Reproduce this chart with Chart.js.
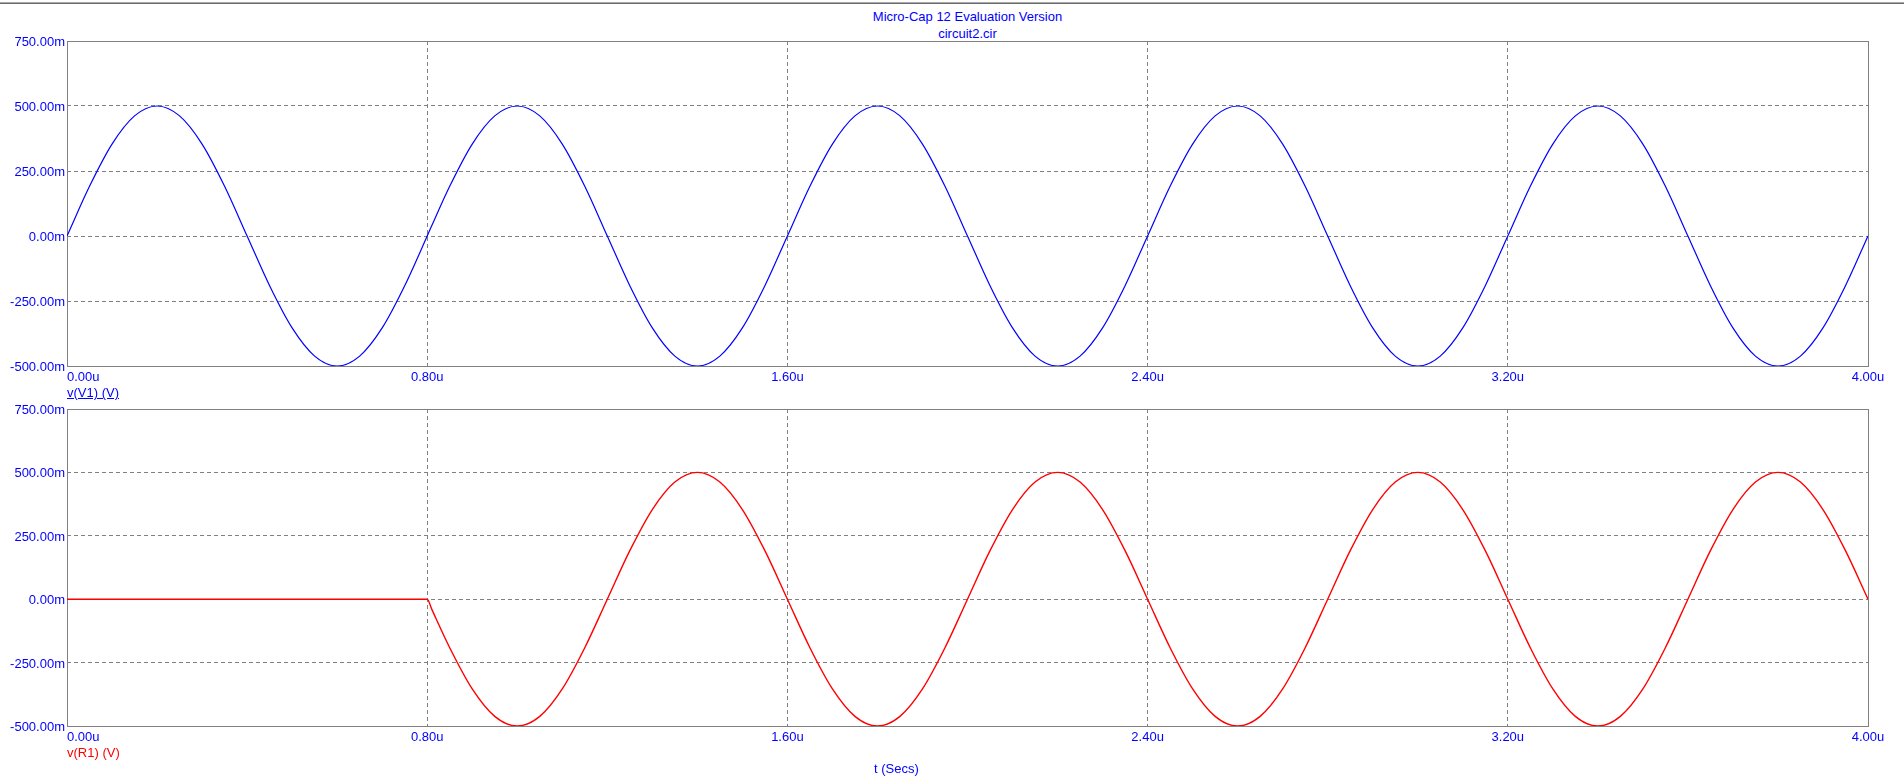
<!DOCTYPE html>
<html>
<head>
<meta charset="utf-8">
<title>circuit2.cir</title>
<script src="https://cdn.jsdelivr.net/npm/chart.js@4.4.0/dist/chart.umd.min.js"></script>
<style>
  html, body { margin: 0; padding: 0; background: #fff; }
  body {
    width: 1904px; height: 783px; position: relative; overflow: hidden;
    font-family: "Liberation Sans", Arial, sans-serif; font-size: 13px;
  }
  .frame-top { position: absolute; left: 0; top: 2px; width: 1904px; height: 1px; background: #a8a8a8; border-bottom: 1px solid #6c6c6c; }
  canvas { position: absolute; left: 0; }
  #topChart { top: 0; }
  #bottomChart { top: 395px; }
  .txt { position: absolute; white-space: nowrap; line-height: 15px; }
  .blue { color: #0000ff; }
  .red { color: #ff0000; }
  .title1 { top: 9px; left: 0; width: 1935px; text-align: center; }
  .title2 { top: 26px; left: 0; width: 1935px; text-align: center; }
  .lbl-v1 { top: 385px; left: 67px; text-decoration: underline; }
  .lbl-r1 { top: 745px; left: 67px; }
  .lbl-t { top: 761px; left: 874px; }
</style>
</head>
<body>
<div class="frame-top"></div>
<div class="txt blue title1">Micro-Cap 12 Evaluation Version</div>
<div class="txt blue title2">circuit2.cir</div>

<canvas id="topChart" width="1904" height="400"></canvas>
<canvas id="bottomChart" width="1904" height="388"></canvas>

<div class="txt blue lbl-v1">v(V1) (V)</div>
<div class="txt red lbl-r1">v(R1) (V)</div>
<div class="txt blue lbl-t">t (Secs)</div>

<script>
// time axis, microseconds
const times = [
  0.00, 0.05, 0.10, 0.15, 0.20, 0.25, 0.30, 0.35, 0.40, 0.45, 0.50, 0.55, 0.60, 0.65, 0.70, 0.75,
  0.80, 0.81, 0.85, 0.90, 0.95, 1.00, 1.05, 1.10, 1.15, 1.20, 1.25, 1.30, 1.35, 1.40, 1.45, 1.50, 1.55,
  1.60, 1.65, 1.70, 1.75, 1.80, 1.85, 1.90, 1.95, 2.00, 2.05, 2.10, 2.15, 2.20, 2.25, 2.30, 2.35,
  2.40, 2.45, 2.50, 2.55, 2.60, 2.65, 2.70, 2.75, 2.80, 2.85, 2.90, 2.95, 3.00, 3.05, 3.10, 3.15,
  3.20, 3.25, 3.30, 3.35, 3.40, 3.45, 3.50, 3.55, 3.60, 3.65, 3.70, 3.75, 3.80, 3.85, 3.90, 3.95,
  4.00
];

// v(V1) in mV
const vV1 = [
  0, 191.3, 353.6, 461.9, 500, 461.9, 353.6, 191.3, 0, -191.3, -353.6, -461.9, -500, -461.9, -353.6, -191.3,
  0, 39.2, 191.3, 353.6, 461.9, 500, 461.9, 353.6, 191.3, 0, -191.3, -353.6, -461.9, -500, -461.9, -353.6, -191.3,
  0, 191.3, 353.6, 461.9, 500, 461.9, 353.6, 191.3, 0, -191.3, -353.6, -461.9, -500, -461.9, -353.6, -191.3,
  0, 191.3, 353.6, 461.9, 500, 461.9, 353.6, 191.3, 0, -191.3, -353.6, -461.9, -500, -461.9, -353.6, -191.3,
  0, 191.3, 353.6, 461.9, 500, 461.9, 353.6, 191.3, 0, -191.3, -353.6, -461.9, -500, -461.9, -353.6, -191.3,
  0
];

// v(R1) in mV
const vR1 = [
  0, 0, 0, 0, 0, 0, 0, 0, 0, 0, 0, 0, 0, 0, 0, 0,
  0, -39.2, -191.3, -353.6, -461.9, -500, -461.9, -353.6, -191.3, 0, 191.3, 353.6, 461.9, 500, 461.9, 353.6, 191.3,
  0, -191.3, -353.6, -461.9, -500, -461.9, -353.6, -191.3, 0, 191.3, 353.6, 461.9, 500, 461.9, 353.6, 191.3,
  0, -191.3, -353.6, -461.9, -500, -461.9, -353.6, -191.3, 0, 191.3, 353.6, 461.9, 500, 461.9, 353.6, 191.3,
  0, -191.3, -353.6, -461.9, -500, -461.9, -353.6, -191.3, 0, 191.3, 353.6, 461.9, 500, 461.9, 353.6, 191.3,
  0
];

const xTicks = [0, 0.8, 1.6, 2.4, 3.2, 4.0];
const xTickLabels = ['0.00u', '0.80u', '1.60u', '2.40u', '3.20u', '4.00u'];
const yTicks = [750, 500, 250, 0, -250, -500];
const yTickLabels = ['750.00m', '500.00m', '250.00m', '0.00m', '-250.00m', '-500.00m'];

const FONT = '13px "Liberation Sans", Arial, sans-serif';
const GRID = '#808080';
const TEXT_BLUE = '#0000ff';

/* =========================
   PLOT FRAME + TICK LABELS
 ========================= */
const framePlugin = {
  id: 'frame',
  beforeDatasetsDraw(chart) {
    const { ctx, chartArea: a } = chart;
    ctx.save();
    ctx.strokeStyle = GRID;
    ctx.lineWidth = 1;
    ctx.setLineDash([]);
    ctx.strokeRect(Math.round(a.left) + 0.5, Math.round(a.top) + 0.5,
      Math.round(a.right - a.left), Math.round(a.bottom - a.top));
    ctx.restore();
  },
  afterDraw(chart) {
    const { ctx, chartArea: a, scales } = chart;
    ctx.save();
    ctx.font = FONT;
    ctx.fillStyle = TEXT_BLUE;
    ctx.textBaseline = 'alphabetic';

    ctx.textAlign = 'right';
    yTicks.forEach((v, i) => {
      ctx.fillText(yTickLabels[i], a.left - 2, Math.round(scales.y.getPixelForValue(v)) + 5);
    });

    xTicks.forEach((v, i) => {
      ctx.textAlign = i === 0 ? 'left' : 'center';
      ctx.fillText(xTickLabels[i], scales.x.getPixelForValue(v), a.bottom + 15);
    });
    ctx.restore();
  }
};

function buildChart(id, values, color, width, padding) {
  const ctx = document.getElementById(id).getContext('2d');
  return new Chart(ctx, {
    type: 'line',
    data: {
      datasets: [{
        data: times.map((t, i) => ({ x: t, y: values[i] })),
        borderColor: color,
        borderWidth: width,
        pointRadius: 0,
        cubicInterpolationMode: 'monotone',
        fill: false
      }]
    },
    options: {
      responsive: false,
      animation: false,
      devicePixelRatio: 1,
      events: [],
      layout: { padding },
      plugins: { legend: { display: false }, tooltip: { enabled: false } },
      scales: {
        x: {
          type: 'linear', min: 0, max: 4,
          afterBuildTicks: s => { s.ticks = xTicks.map(v => ({ value: v })); },
          ticks: { display: false },
          grid: { color: GRID, lineWidth: 1, drawTicks: false },
          border: { display: false, dash: [4, 3] }
        },
        y: {
          type: 'linear', min: -500, max: 750,
          afterBuildTicks: s => { s.ticks = yTicks.map(v => ({ value: v })); },
          ticks: { display: false },
          grid: { color: GRID, lineWidth: 1, drawTicks: false },
          border: { display: false, dash: [4, 3] }
        }
      }
    },
    plugins: [framePlugin]
  });
}

buildChart('topChart', vV1, '#0000ff', 1.2, { left: 67, top: 41, right: 36, bottom: 34 });
buildChart('bottomChart', vR1, '#ff0000', 1.4, { left: 67, top: 14, right: 36, bottom: 57 });
</script>
</body>
</html>
